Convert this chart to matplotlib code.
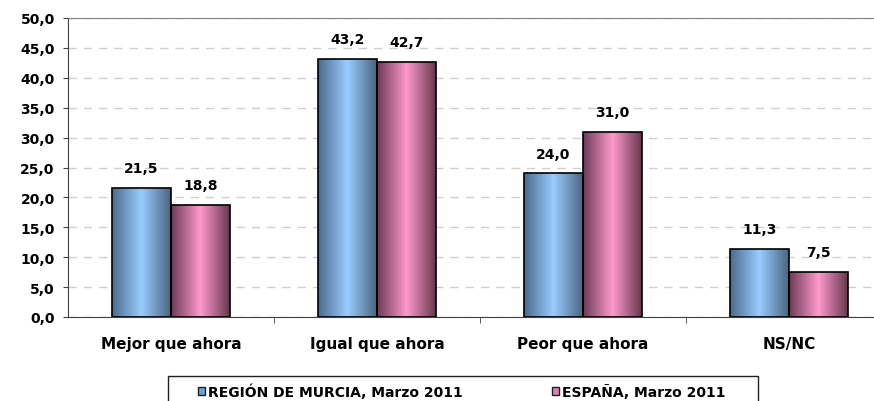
import numpy as np
import matplotlib.pyplot as plt
from matplotlib.colors import LinearSegmentedColormap
from matplotlib.patches import Patch, Rectangle

plt.rcParams['font.family'] = ['DejaVu Sans']

categories = ['Mejor que ahora', 'Igual que ahora', 'Peor que ahora', 'NS/NC']
murcia = [21.5, 43.2, 24.0, 11.3]
espana = [18.8, 42.7, 31.0, 7.5]
series_names = ['REGIÓN DE MURCIA, Marzo 2011', 'ESPAÑA, Marzo 2011']
y_ticks = [0, 5, 10, 15, 20, 25, 30, 35, 40, 45, 50]

blue_cmap = LinearSegmentedColormap.from_list('b', ['#4c6b8c', '#99ccff', '#4a6580'])
pink_cmap = LinearSegmentedColormap.from_list('p', ['#6c3a55', '#ff99cc', '#66384e'])

fig = plt.figure(figsize=(8.74, 4.02), dpi=100)
ax = fig.add_axes([68 / 874, 84 / 402, 824 / 874, 299 / 402])

x = np.arange(len(categories))
w = 0.286

def fmt(v):
    return f'{v:.1f}'.replace('.', ',')

grad = np.linspace(0, 1, 256).reshape(1, -1)
for vals, off, cmap in [(murcia, -w / 2, blue_cmap), (espana, w / 2, pink_cmap)]:
    bars = ax.bar(x + off, vals, w, facecolor='none', edgecolor='black', linewidth=1.2, zorder=3)
    for b, v in zip(bars, vals):
        im = ax.imshow(grad, cmap=cmap, aspect='auto', zorder=2,
                       extent=[b.get_x(), b.get_x() + b.get_width(), 0, b.get_height()])
        im.set_clip_path(b)
        ax.annotate(fmt(v), (b.get_x() + b.get_width() / 2, v), xytext=(0, 11.5),
                    textcoords='offset points', ha='center', va='baseline',
                    fontsize=10, fontweight='bold')

ax.set_xlim(-0.5, len(categories) - 0.5)
ax.set_ylim(0, 50)
ax.set_yticks(y_ticks)
ax.set_yticklabels([fmt(t) for t in y_ticks], fontsize=10, fontweight='bold')
ax.set_xticks(x)
ax.set_xticklabels(categories, fontsize=11, fontweight='bold')
ax.set_xticks(x[:-1] + 0.5, minor=True)
ax.tick_params(axis='x', which='major', length=0, pad=14)
ax.tick_params(axis='x', which='minor', length=4, color='#404040', direction='out')
ax.tick_params(axis='y', length=3.6, color='#404040', direction='out', pad=6)

ax.yaxis.grid(True, linestyle=(0, (6, 5)), color='#d0d0d0', linewidth=1)
ax.set_axisbelow(True)
ax.spines['right'].set_visible(False)
ax.spines['top'].set_color('#808080')
ax.spines['left'].set_color('#404040')
ax.spines['bottom'].set_color('#404040')

# legend box (runs off the bottom edge like the original)
fig.patches.append(Rectangle((168 / 874, -10 / 402), 590 / 874, 35 / 402,
                             transform=fig.transFigure, facecolor='white',
                             edgecolor='#202020', linewidth=1.0))
handles = [Patch(facecolor='#6fa0d8', edgecolor='#202020'),
           Patch(facecolor='#e080b0', edgecolor='#202020')]
leg = fig.legend(handles, series_names, loc='center left', bbox_to_anchor=(198 / 874, 1 - 392 / 402),
                 ncol=2, frameon=False, handlelength=0.5, handleheight=0.5,
                 handletextpad=0.25, columnspacing=6.4, borderpad=0, borderaxespad=0,
                 prop={'weight': 'bold', 'size': 10})

fig.savefig('out.png', dpi=100)
